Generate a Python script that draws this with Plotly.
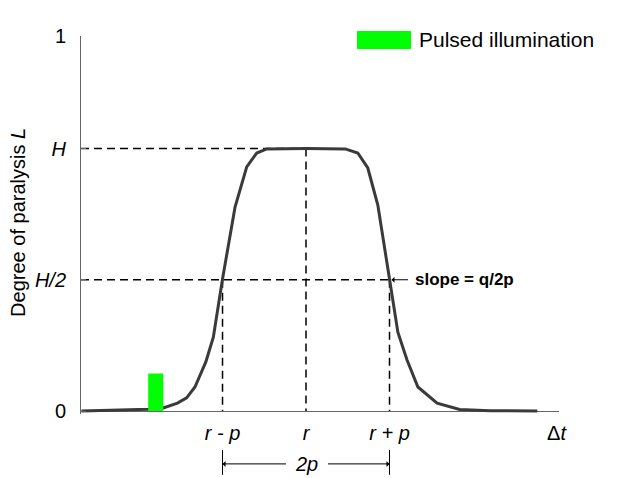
import plotly.graph_objects as go

# delay between pulse and reference, in units of p around r (r = 0, p = 1)
delay = [-2.69, -2.30, -1.89, -1.71, -1.54, -1.43, -1.33, -1.20, -1.11, -1.00,
         -0.85, -0.71, -0.59, -0.47, 0.00, 0.47, 0.62, 0.74, 0.86, 1.00,
         1.10, 1.21, 1.34, 1.57, 1.84, 2.20, 2.77]
paralysis = [0.000, 0.002, 0.005, 0.008, 0.021, 0.035, 0.064, 0.131, 0.197, 0.352,
             0.544, 0.651, 0.688, 0.699, 0.700, 0.699, 0.688, 0.648, 0.549, 0.352,
             0.210, 0.136, 0.064, 0.021, 0.004, 0.001, 0.000]

H = 0.70
r = 0.0
p = 1.0
pulse_start, pulse_end, pulse_level = -1.89, -1.71, 0.10

x_ticks = [r - p, r, r + p, 3.0]
x_labels = ["<i>r - p</i>", "<i>r</i>", "<i>r + p</i>", "Δ<i>t</i>"]
y_ticks = [0, H / 2, H, 1]
y_labels = ["0", "<i>H/2</i>", "<i>H</i>", "1"]

x_min, x_max = -2.695, 3.03

FONT = "Liberation Sans, Arial, sans-serif"
DASH = "8px,5px"

fig = go.Figure()

# guide lines
guides = [
    ([x_min, r], [H, H]),
    ([r, r], [H, 0]),
    ([x_min, r + p], [H / 2, H / 2]),
    ([r - p, r - p], [H / 2, 0]),
    ([r + p, r + p], [H / 2, 0]),
]
for gx, gy in guides:
    fig.add_trace(go.Scatter(
        x=gx, y=gy, mode="lines",
        line=dict(color="black", width=1.5, dash=DASH),
        showlegend=False, hoverinfo="skip"
    ))

# response curve
fig.add_trace(go.Scatter(
    x=delay, y=paralysis, mode="lines",
    line=dict(color="#3a3a3a", width=3),
    showlegend=False
))

# pulse
fig.add_trace(go.Scatter(
    x=[pulse_start, pulse_start, pulse_end, pulse_end],
    y=[0, pulse_level, pulse_level, 0],
    mode="lines", fill="toself", fillcolor="#00ff00",
    line=dict(color="#00ff00", width=0),
    showlegend=False
))

# legend box (manual)
fig.add_shape(type="rect", xref="paper", yref="paper",
              x0=0.5774, x1=0.6904, y0=0.9656, y1=1.0132,
              fillcolor="#00ff00", line=dict(width=0))
fig.add_annotation(xref="paper", yref="paper", x=0.703, y=0.99,
                   xanchor="left", yanchor="middle", showarrow=False,
                   text="Pulsed illumination", font=dict(size=21, color="black"))

# slope arrow
fig.add_annotation(x=r + p, y=H / 2, ax=20, ay=0, axref="pixel", ayref="pixel",
                   text="", showarrow=True, arrowhead=1, arrowwidth=1,
                   arrowcolor="black", standoff=2)
fig.add_annotation(x=r + p, y=H / 2, xshift=23, xanchor="left", yanchor="middle",
                   showarrow=False, text="<b>slope = q/2p</b>",
                   font=dict(size=17, color="black"))

# 2p width marker
fig.add_annotation(x=r, y=-0.132, yref="paper", yanchor="middle", showarrow=False,
                   text="<i>2p</i>", font=dict(size=20, color="black"))
for head, tail in [(r - p, 65), (r + p, -63)]:
    fig.add_annotation(x=head, y=-0.132, yref="paper", ax=tail, ay=0,
                       axref="pixel", ayref="pixel", text="", showarrow=True,
                       arrowhead=1, arrowwidth=1, arrowcolor="black", standoff=0)
    fig.add_shape(type="line", xref="x", yref="paper", x0=head, x1=head,
                  y0=-0.095, y1=-0.161, line=dict(color="black", width=1))

# y title
fig.add_annotation(xref="paper", yref="paper", x=-0.132, y=0.508,
                   xanchor="center", yanchor="middle",
                   textangle=-90, showarrow=False,
                   text="Degree of paralysis <i>L</i>",
                   font=dict(size=20, color="black"))

# page body has an 8px margin, so the figure is sized to sit inside it
fig.update_layout(
    width=609, height=470,
    margin=dict(l=73, r=58, t=28, b=64),
    plot_bgcolor="white", paper_bgcolor="white",
    font=dict(family=FONT, size=20, color="black"),
    xaxis=dict(
        range=[x_min, x_max], showgrid=False, zeroline=False, showline=False,
        tickvals=x_ticks, ticktext=x_labels, ticks="", ticklabelstandoff=5,
        tickfont=dict(size=20)
    ),
    yaxis=dict(
        range=[-0.008, 1.0], showgrid=False, showline=True, linecolor="#666",
        linewidth=1, zeroline=True, zerolinecolor="#666", zerolinewidth=1,
        tickvals=y_ticks, ticktext=y_labels, ticks="inside", ticklen=5,
        tickcolor="#666", ticklabelstandoff=10, tickfont=dict(size=20)
    ),
)

fig.write_html("out.html")
